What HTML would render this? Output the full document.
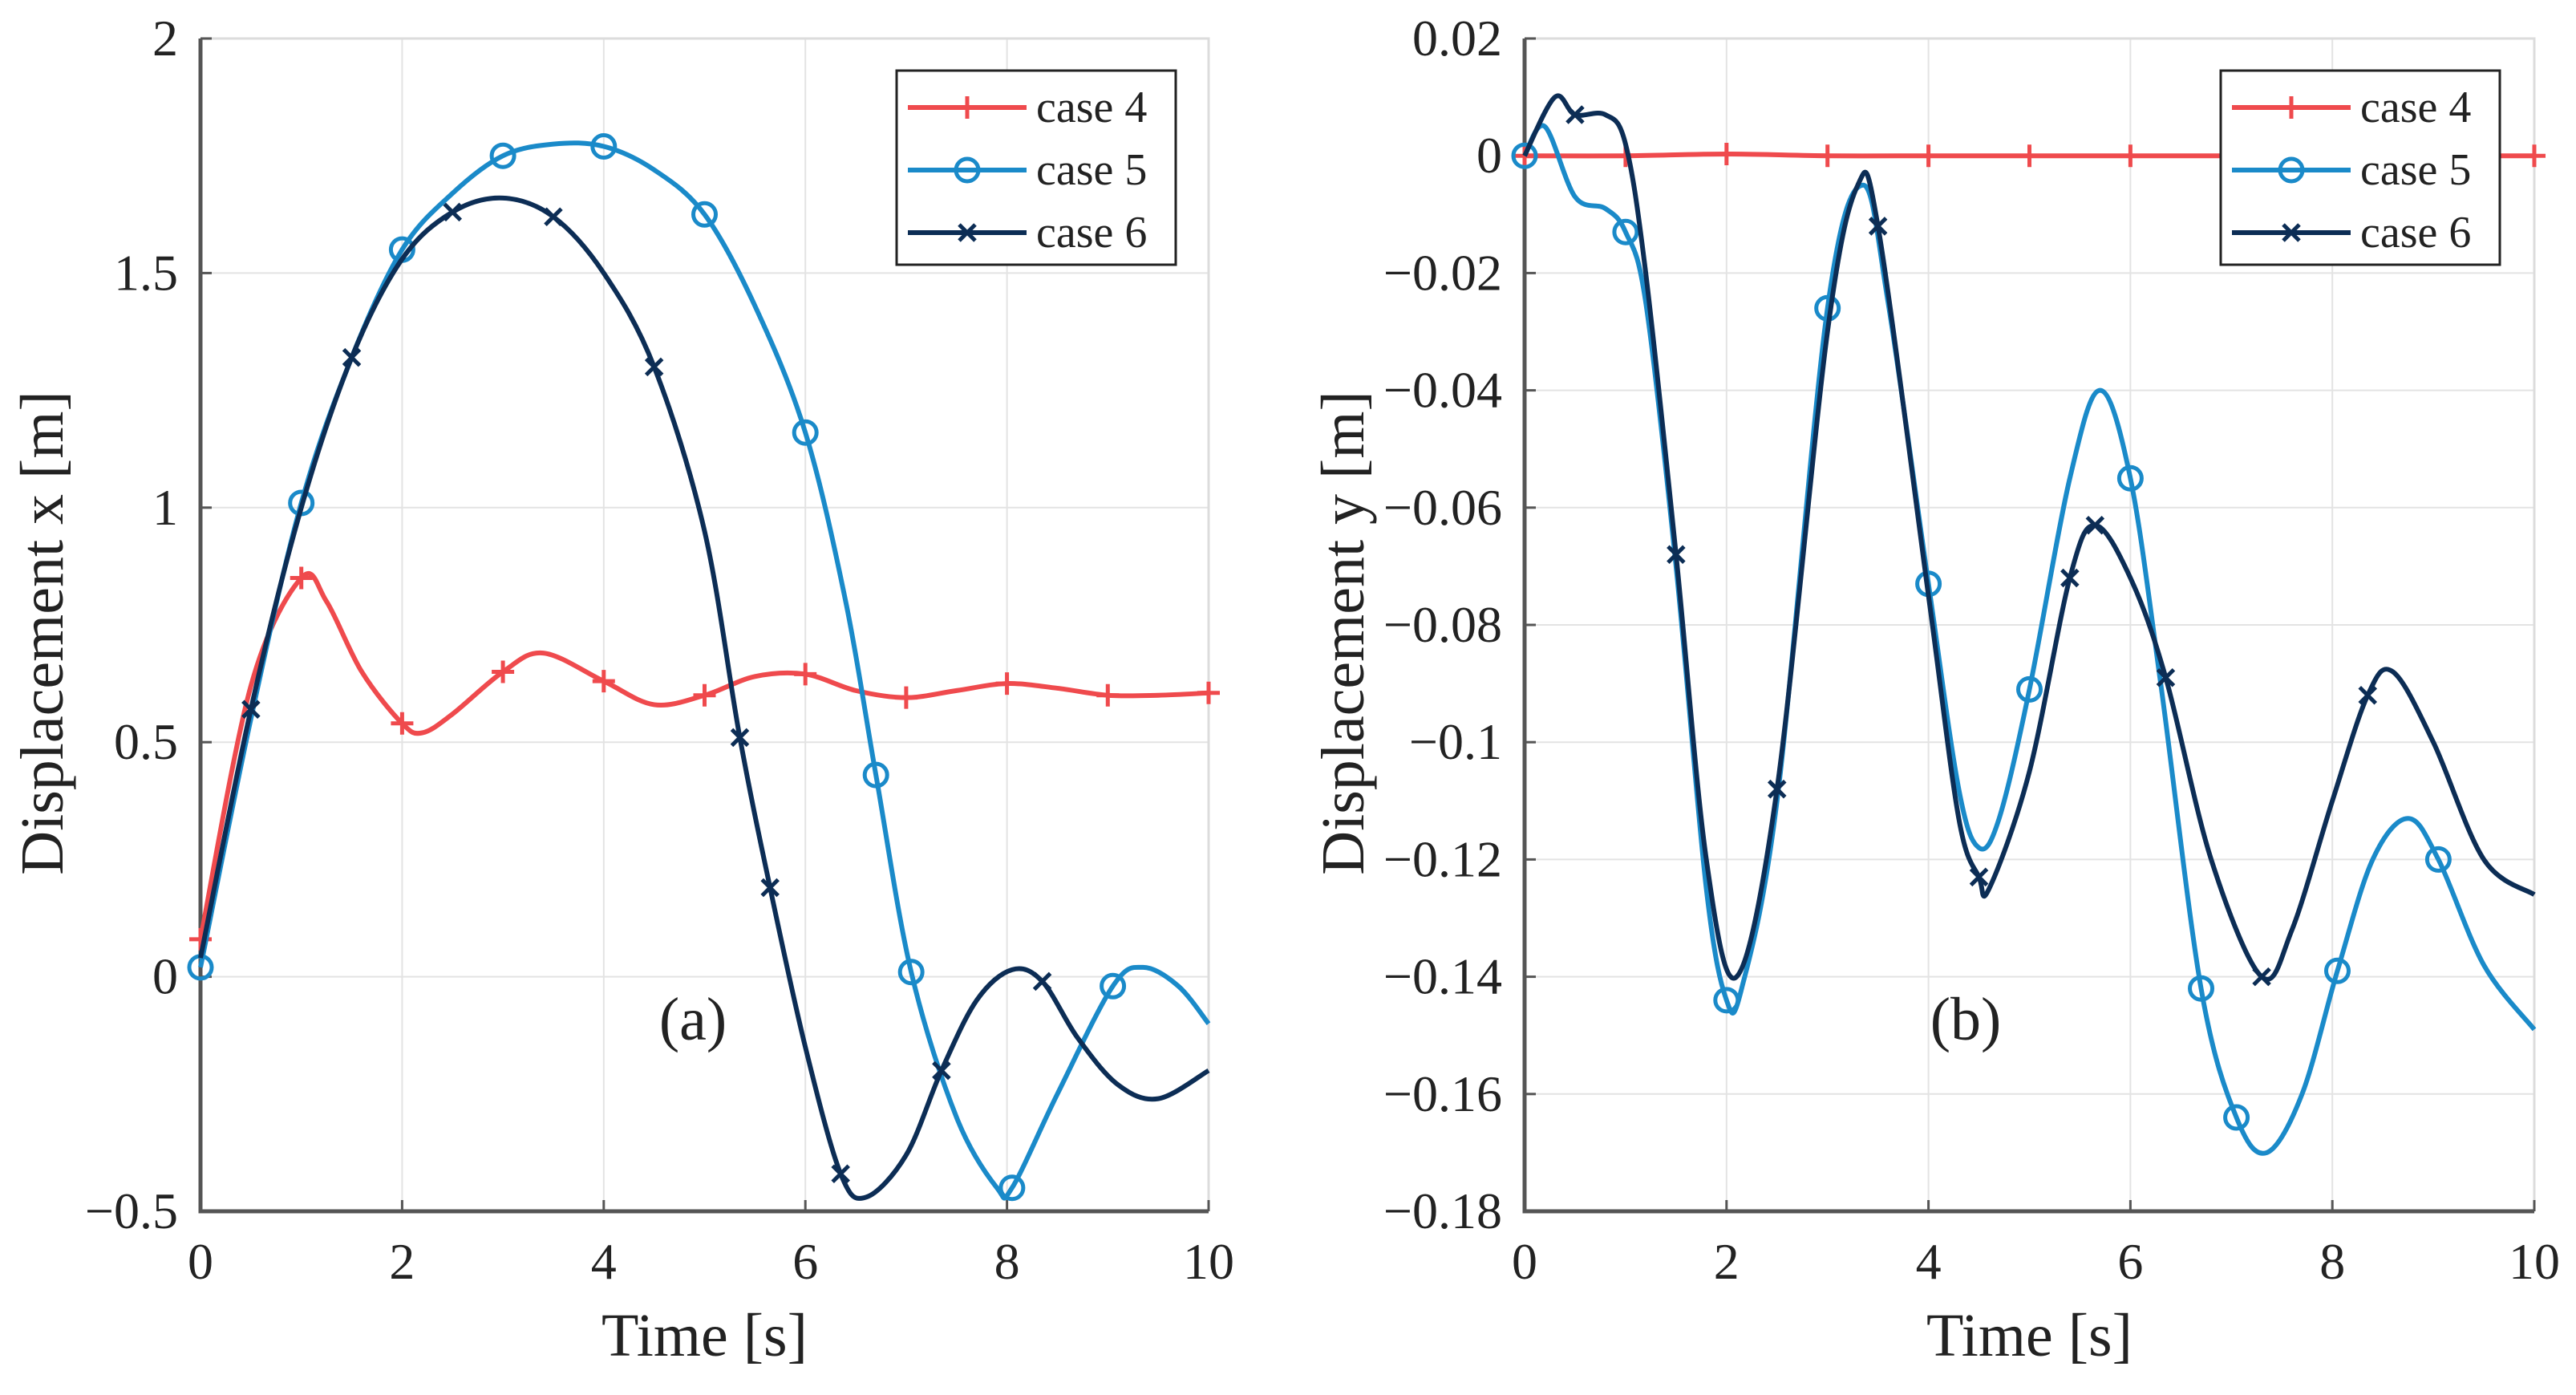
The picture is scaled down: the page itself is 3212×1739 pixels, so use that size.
<!DOCTYPE html>
<html><head><meta charset="utf-8">
<style>
html,body{margin:0;padding:0;background:#fff;font-family:"Liberation Serif",serif;}
svg{display:block;font-family:"Liberation Serif",serif;}
svg text, svg tspan{font-family:"Liberation Serif",serif !important;}
</style></head>
<body>
<svg id="fig" width="3212" height="1739" viewBox="0 0 3212 1739" xmlns="http://www.w3.org/2000/svg" font-family="Liberation Serif, serif"></svg>
<script>
// ---------- Data ----------
const xTicksA = [0,2,4,6,8,10];
const yTicksA = [-0.5,0,0.5,1,1.5,2];
const yTickLabelsA = ["\u22120.5","0","0.5","1","1.5","2"];
const xTicksB = [0,2,4,6,8,10];
const yTicksB = [-0.18,-0.16,-0.14,-0.12,-0.1,-0.08,-0.06,-0.04,-0.02,0,0.02];
const yTickLabelsB = ["\u22120.18","\u22120.16","\u22120.14","\u22120.12","\u22120.1","\u22120.08","\u22120.06","\u22120.04","\u22120.02","0","0.02"];
const legendLabels = ["case 4","case 5","case 6"];

// Panel (a) displacement x
const a4t = [0,0.5,1,1.25,1.6,2,2.2,2.5,3,3.4,4,4.5,5,5.5,6,6.5,7,7.5,8,8.5,9,9.5,10];
const a4v = [0.08,0.62,0.85,0.8,0.65,0.54,0.52,0.56,0.65,0.69,0.63,0.58,0.6,0.64,0.645,0.61,0.595,0.61,0.625,0.615,0.6,0.6,0.605];
const a4m = [0,2,5,8,10,12,14,16,18,20,22];
const a5t = [0,0.5,1,1.5,2,2.5,3,3.5,4,4.5,5,5.5,6,6.4,6.7,7.05,7.5,7.9,8.05,8.5,9.05,9.35,9.7,10];
const a5v = [0.02,0.55,1.01,1.32,1.55,1.67,1.75,1.775,1.77,1.72,1.625,1.43,1.16,0.8,0.43,0.01,-0.3,-0.45,-0.45,-0.25,-0.02,0.02,-0.02,-0.1];
const a5m = [0,2,4,6,8,10,12,14,15,18,20];
const a6t = [0,0.5,1,1.5,2,2.5,3,3.5,4,4.5,5,5.35,5.65,6,6.35,6.6,7,7.35,7.7,8.05,8.35,8.7,9.1,9.5,10];
const a6v = [0.04,0.57,1.0,1.32,1.53,1.63,1.66,1.62,1.5,1.3,0.95,0.51,0.19,-0.15,-0.42,-0.47,-0.38,-0.2,-0.05,0.015,-0.01,-0.13,-0.23,-0.26,-0.2];
const a6m = [1,3,5,7,9,11,12,14,17,20];

// Panel (b) displacement y
const b4t = [0,1,2,3,4,5,6,7,8,9,10];
const b4v = [0,0,0.0003,0,0,0,0,0,0,0,0];
const b4m = [0,1,2,3,4,5,6,7,8,9,10];
const b5t = [0,0.2,0.5,0.8,1,1.2,1.5,1.8,2,2.15,2.5,3,3.35,3.6,4,4.3,4.5,4.7,5,5.4,5.7,6,6.3,6.7,7.05,7.35,7.7,8.05,8.4,8.75,9.05,9.5,10];
const b5v = [0,0.005,-0.007,-0.009,-0.013,-0.025,-0.07,-0.125,-0.144,-0.142,-0.11,-0.026,-0.005,-0.025,-0.073,-0.108,-0.118,-0.113,-0.091,-0.055,-0.04,-0.055,-0.09,-0.142,-0.164,-0.17,-0.16,-0.139,-0.12,-0.113,-0.12,-0.138,-0.149];
const b5m = [0,4,8,11,14,18,21,23,24,27,30];
const b6t = [0,0.3,0.5,0.8,1,1.2,1.5,1.8,2.1,2.5,3,3.3,3.5,4,4.3,4.5,4.6,5,5.4,5.65,6,6.35,6.8,7.3,7.6,8,8.35,8.6,9,9.5,10];
const b6v = [0,0.01,0.007,0.007,0.002,-0.02,-0.068,-0.12,-0.14,-0.108,-0.03,-0.005,-0.012,-0.075,-0.113,-0.123,-0.125,-0.105,-0.072,-0.063,-0.072,-0.089,-0.12,-0.14,-0.132,-0.11,-0.092,-0.088,-0.1,-0.12,-0.126];
const b6m = [2,6,9,12,15,18,19,21,23,26];

// ---------- Drawing ----------
const NS = "http://www.w3.org/2000/svg";
const svg = document.getElementById('fig');
const RED="#ef4a4d", BLUE="#1a8ac9", NAVY="#0c2d55";
function mk(tag, attrs, parent){const e=document.createElementNS(NS,tag);for(const k in attrs)e.setAttribute(k,attrs[k]);
  if(tag==='text'){e.setAttribute('font-family','Liberation Serif, serif');e.setAttribute('style','font-family:"Liberation Serif",serif');}
  (parent||svg).appendChild(e);return e;}

function panel(cfg){
  const g = mk('g',{});
  
  
  const X = t => cfg.x0 + (t - cfg.xmin)/(cfg.xmax-cfg.xmin)*(cfg.x1-cfg.x0);
  const Y = v => cfg.y1 - (v - cfg.ymin)/(cfg.ymax-cfg.ymin)*(cfg.y1-cfg.y0);
  cfg.xticks.forEach(t=>{const l=mk('line',{x1:X(t),x2:X(t),y1:cfg.y0,y2:cfg.y1,stroke:'#e3e3e3','stroke-width':2},g);
     });
  cfg.yticks.forEach(v=>{const l=mk('line',{x1:cfg.x0,x2:cfg.x1,y1:Y(v),y2:Y(v),stroke:'#e3e3e3','stroke-width':2},g);
     });
  mk('polyline',{points:`${cfg.x0},${cfg.y0} ${cfg.x1},${cfg.y0} ${cfg.x1},${cfg.y1}`,fill:'none',stroke:'#dcdcdc','stroke-width':3},g);
  const ax=mk('polyline',{points:`${cfg.x0},${cfg.y0} ${cfg.x0},${cfg.y1} ${cfg.x1},${cfg.y1}`,fill:'none',stroke:'#555','stroke-width':5},g);
   
  cfg.xticks.forEach(t=>{mk('line',{x1:X(t),x2:X(t),y1:cfg.y1,y2:cfg.y1-14,stroke:'#555','stroke-width':3},g);
    const tx=mk('text',{x:X(t),y:cfg.y1+84,'text-anchor':'middle','font-size':64,fill:'#222'},g);tx.textContent=String(t);
     });
  cfg.yticks.forEach((v,i)=>{mk('line',{x1:cfg.x0,x2:cfg.x0+14,y1:Y(v),y2:Y(v),stroke:'#555','stroke-width':3},g);
    const tx=mk('text',{x:cfg.x0-28,y:Y(v)+21,'text-anchor':'end','font-size':64,fill:'#222'},g);tx.textContent=cfg.ylabels[i];
     });
  const xt=mk('text',{x:(cfg.x0+cfg.x1)/2,y:1690,'text-anchor':'middle','font-size':76,fill:'#222'},g);xt.textContent='Time [s]';
   
  const yt=mk('text',{x:0,y:0,'text-anchor':'middle','font-size':76,fill:'#222',transform:`translate(${cfg.ylx},${(cfg.y0+cfg.y1)/2+10}) rotate(-90)`},g);yt.textContent=cfg.ytitle;
   
  const pl=mk('text',{x:cfg.labx,y:1296,'text-anchor':'middle','font-size':76,fill:'#222'},g);pl.textContent=cfg.plabel;
   
  cfg.series.forEach(s=>{
    const P=s.t.map((t,i)=>[X(t),Y(s.v[i])]);
    let d=`M${P[0][0]},${P[0][1]}`;
    for(let i=0;i<P.length-1;i++){
      const p0=P[Math.max(0,i-1)],p1=P[i],p2=P[i+1],p3=P[Math.min(P.length-1,i+2)];
      const c1=[p1[0]+(p2[0]-p0[0])/6,p1[1]+(p2[1]-p0[1])/6];
      const c2=[p2[0]-(p3[0]-p1[0])/6,p2[1]-(p3[1]-p1[1])/6];
      d+=` C${c1[0]},${c1[1]} ${c2[0]},${c2[1]} ${p2[0]},${p2[1]}`;
    }
    const path=mk('path',{d:d,fill:'none',stroke:s.color,'stroke-width':6,'stroke-linejoin':'round'},g);
    
    
    s.m.forEach(i=>{const m=marker(g,s.mtype,P[i][0],P[i][1],s.color);
      
      });
  });
  const lg=mk('g',{},g);
  
  
  mk('rect',{x:cfg.lx,y:88,width:348,height:242,fill:'#fff',stroke:'#222','stroke-width':3},lg);
  cfg.series.forEach((s,i)=>{
    const yy=134+i*78;
    const e=mk('g',{},lg);
    
    
    mk('line',{x1:cfg.lx+14,x2:cfg.lx+162,y1:yy,y2:yy,stroke:s.color,'stroke-width':6},e);
    marker(e,s.mtype,cfg.lx+88,yy,s.color);
    const t=mk('text',{x:cfg.lx+174,y:yy+18,'font-size':56,fill:'#222'},e);t.textContent=legendLabels[i];
  });
}
function marker(g,type,x,y,c){
  if(type==='o') return mk('circle',{cx:x,cy:y,r:14,fill:'none',stroke:c,'stroke-width':5},g);
  if(type==='+') return mk('path',{d:`M${x-14},${y}H${x+14}M${x},${y-14}V${y+14}`,stroke:c,'stroke-width':5},g);
  return mk('path',{d:`M${x-10},${y-10}L${x+10},${y+10}M${x-10},${y+10}L${x+10},${y-10}`,stroke:c,'stroke-width':5},g);
}

panel({name:'panel-a',x0:250,x1:1507,y0:48,y1:1510,xmin:0,xmax:10,ymin:-0.5,ymax:2,
  xticks:xTicksA,yticks:yTicksA,ylabels:yTickLabelsA,ytitle:'Displacement x [m]',ylx:78,plabel:'(a)',labx:864,lx:1118,
  series:[{name:'case-4',t:a4t,v:a4v,m:a4m,color:RED,mtype:'+'},{name:'case-5',t:a5t,v:a5v,m:a5m,color:BLUE,mtype:'o'},{name:'case-6',t:a6t,v:a6v,m:a6m,color:NAVY,mtype:'x'}]});
panel({name:'panel-b',x0:1901,x1:3160,y0:48,y1:1510,xmin:0,xmax:10,ymin:-0.18,ymax:0.02,
  xticks:xTicksB,yticks:yTicksB,ylabels:yTickLabelsB,ytitle:'Displacement y [m]',ylx:1700,plabel:'(b)',labx:2451,lx:2769,
  series:[{name:'case-4',t:b4t,v:b4v,m:b4m,color:RED,mtype:'+'},{name:'case-5',t:b5t,v:b5v,m:b5m,color:BLUE,mtype:'o'},{name:'case-6',t:b6t,v:b6v,m:b6m,color:NAVY,mtype:'x'}]});
</script>
</body></html>
